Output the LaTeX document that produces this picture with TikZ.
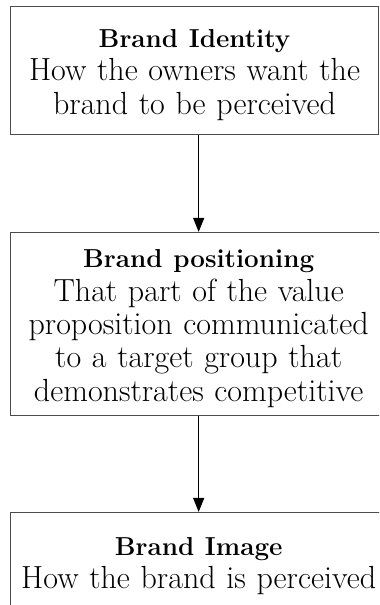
\documentclass[tikz,border=0pt]{standalone}
\usepackage{fontspec}
\usepackage{tikz}
\usetikzlibrary{arrows.meta,positioning}
\newcommand\brandhead[1]{\rule{0pt}{27pt}{\fontsize{26}{33.3}\selectfont\bfseries #1}}

\begin{document}
\begin{tikzpicture}[
  brandbox/.style={draw=black!70, line width=1.2pt, anchor=north west, align=center,
    text width=12.6cm, inner sep=0pt, font=\fontsize{32}{33.3}\selectfont},
  flow/.style={draw=black, line width=1pt, -{Triangle[length=14pt,width=11pt]}}]
\clip (0cm,0cm) rectangle (13.32cm,-21.26cm);
\node[brandbox, minimum width=12.93cm, minimum height=4.50cm] (identity) at (0.35cm,-0.21cm)
  {\brandhead{Brand Identity}\\ How the owners want the\\ brand to be perceived};
\node[brandbox, minimum width=13.22cm, minimum height=6.43cm] (positioning) at (0.35cm,-8.15cm)
  {\brandhead{Brand positioning}\\ That part of the value\\ proposition communicated\\ to a target group that\\ demonstrates competitive};
\node[brandbox, minimum width=13.22cm, minimum height=3.44cm] (image) at (0.35cm,-17.99cm)
  {\brandhead{Brand Image}\\ How the brand is perceived};
\draw[flow] (identity.south -| positioning.north) -- (positioning.north);
\draw[flow] (positioning.south) -- (image.north);
\end{tikzpicture}
\end{document}
